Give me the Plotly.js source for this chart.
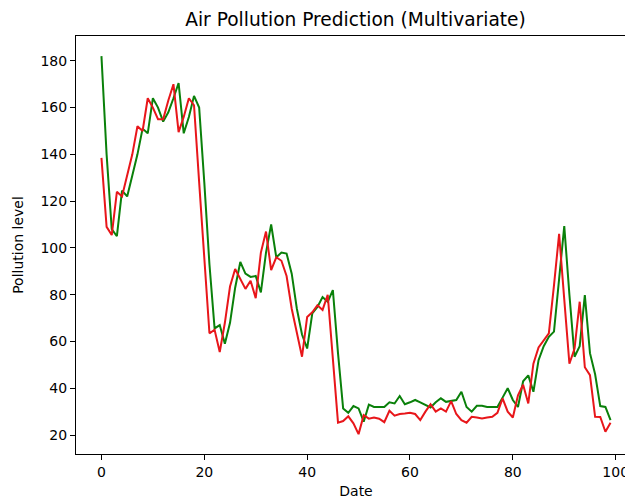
<!DOCTYPE html>
<html>
<head>
<meta charset="utf-8">
<script src="https://cdn.plot.ly/plotly-3.0.1.min.js"></script>
<style>
  html, body { margin: 0; padding: 0; background: #fff; overflow: hidden; }
  #chart { width: 660px; height: 501px; }
</style>
</head>
<body>
<div id="chart"></div>
<script>
// Series (index 0..99 along the Date axis)
const predicted = [
  182,140,108,105,124.5,122,131,140,151,149,
  164,160,154,158,164,170.5,149,156,165,160,
  128,93,65.6,67,59,68,83,94,89,87.6,
  88,81,98,110,96,98,97.6,89,74,63,
  57,72,74.8,79,77,82,55,31.4,29.5,32.4,
  31.4,25.7,33,32,32,32,34,33.5,36.7,33.2,
  34,35,34,33,31.8,34,35.7,34.2,34.5,35,
  38.5,32,30,32.5,32.5,32,32,32,36,40,
  35,32,43,45.5,38.5,52,58,62,64.2,87,
  109.3,80,53.5,58,79.8,55,46,32.4,32,26.4
];
const actual = [
  138.5,109,105.5,124,122,131,140,152,150,164,
  160,155,155,163,170,149.5,156,164,161,128,
  96,63.5,65,55.5,68,83.5,91,86.5,82.5,86,
  78.5,98,107,90.5,96,94.5,88,74,64,53.5,
  70.5,72.5,75.5,73.5,80,52,25.3,26,28,25,
  20.4,28.5,27,27.5,27,25.5,30.4,28.3,29,29.2,
  29.5,29,26.4,30,33.2,30,31.4,30,34.5,29,
  26.4,25.3,27.8,27.5,27.1,27.5,27.8,29.5,35.7,30,
  27.5,37,41.5,33.5,50.5,57.5,60.5,63.5,84,106,
  78,50.5,57,77,49,45.6,27.8,27.7,21.4,25.3
];
const xTicks = [0, 20, 40, 60, 80, 100];
const yTicks = [20, 40, 60, 80, 100, 120, 140, 160, 180];

const traces = [
  { y: predicted, type: 'scatter', mode: 'lines', name: 'Predicted',
    line: { color: '#0a800a', width: 2 } },
  { y: actual, type: 'scatter', mode: 'lines', name: 'Actual',
    line: { color: '#e8161a', width: 2 } }
];

const axisCommon = {
  showline: true, mirror: true, linecolor: '#000', linewidth: 1,
  ticks: 'outside', ticklen: 5, tickwidth: 1, tickcolor: '#000',
  showgrid: false, zeroline: false,
  tickfont: { family: 'DejaVu Sans', size: 14, color: '#000' }
};

const layout = {
  width: 660, height: 501,
  margin: { l: 76, r: 24, t: 36, b: 47 },
  paper_bgcolor: '#fff', plot_bgcolor: '#fff',
  showlegend: false,
  title: { text: 'Air Pollution Prediction (Multivariate)',
    font: { family: 'DejaVu Sans', size: 18.6, color: '#000' },
    x: 355.5 / 660, xanchor: 'center', y: 1 - 19 / 501, yanchor: 'middle' },
  xaxis: Object.assign({}, axisCommon, {
    range: [-4.95, 103.95], tickvals: xTicks, ticktext: xTicks.map(String),
    title: { text: 'Date', font: { family: 'DejaVu Sans', size: 14, color: '#000' }, standoff: 7 }
  }),
  yaxis: Object.assign({}, axisCommon, {
    range: [11.9, 190.6], tickvals: yTicks, ticktext: yTicks.map(String),
    title: { text: 'Pollution level', font: { family: 'DejaVu Sans', size: 14, color: '#000' }, standoff: 13 }
  })
};

Plotly.newPlot('chart', traces, layout, { displayModeBar: false, staticPlot: true });
</script>
</body>
</html>
